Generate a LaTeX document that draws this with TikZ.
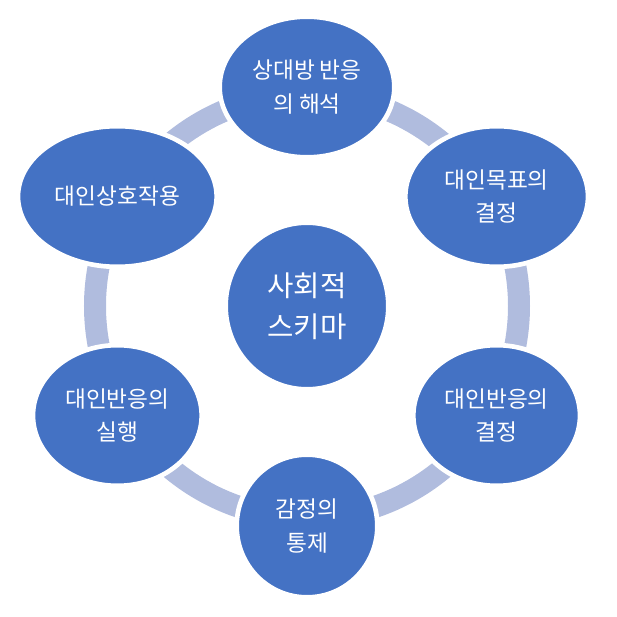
\documentclass[tikz,border=0pt]{standalone}
\usepackage{fontspec}
\setmainfont{Noto Sans CJK KR}
\usepackage{tikz}
\usetikzlibrary{shapes.geometric}
\definecolor{stageblue}{RGB}{68,114,196}
\definecolor{ringgray}{RGB}{176,188,222}

\begin{document}
\begin{tikzpicture}[x=0.75pt, y=0.75pt,
      stage/.style={ellipse, fill=stageblue, draw=white, line width=3.5pt, inner sep=0pt,
        text=white, align=center, font=\fontsize{17pt}{25pt}\selectfont},
      hub/.style={stage, font=\fontsize{21.5pt}{31pt}\selectfont},
      ring/.style={draw=ringgray, line width=16.5pt},
    ]
      \useasboundingbox (-307,-311) rectangle (310,306);

      \node[hub, minimum width=122pt, minimum height=125pt] (schema) at (0,0) {사회적\\스키마};

      % cycle ring behind the stages
      \draw[ring] (schema.center) circle[radius=212];

      \node[stage, minimum width=131pt, minimum height=105.5pt] (interp) at (90:219) {상대방 반응\\의 해석};
      \node[stage, minimum width=137pt, minimum height=105.5pt] (goal) at (30:219) {대인목표의\\결정};
      \node[stage, minimum width=125pt, minimum height=105.5pt] (decide) at (-30:219) {대인반응의\\결정};
      \node[stage, minimum width=105.5pt, minimum height=107pt] (emotion) at (-90:220) {감정의\\통제};
      \node[stage, minimum width=126.5pt, minimum height=105.5pt] (act) at (-150:219) {대인반응의\\실행};
      \node[stage, minimum width=149pt, minimum height=105.5pt] (inter) at (150:219) {대인상호작용};
    \end{tikzpicture}
\end{document}
